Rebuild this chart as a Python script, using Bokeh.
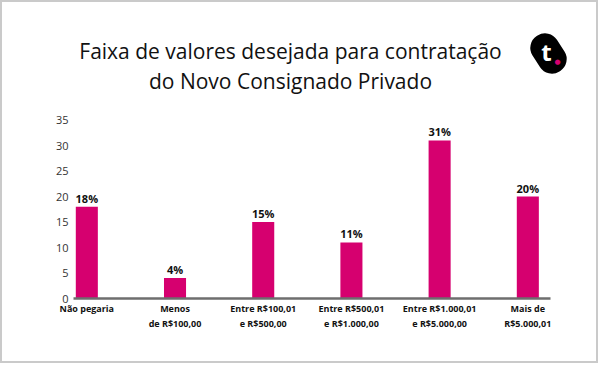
from bokeh.plotting import figure
from bokeh.models import Range1d, FixedTicker, ColumnDataSource, Label
from bokeh.embed import file_html
from bokeh.resources import INLINE

categories = ["Não pegaria", "Menos\nde R$100,00", "Entre R$100,01\ne R$500,00",
              "Entre R$500,01\ne R$1.000,00", "Entre R$1.000,01\ne R$5.000,00",
              "Mais de\nR$5.000,01"]
values = [18, 4, 15, 11, 31, 20]
value_labels = ["18%", "4%", "15%", "11%", "31%", "20%"]
y_ticks = [0, 5, 10, 15, 20, 25, 30, 35]
title_lines = ["Faixa de valores desejada para contratação", "do Novo Consignado Privado"]

BAR = "#d6006f"
xs = list(range(len(categories)))
src = ColumnDataSource(dict(x=xs, top=values, lab=value_labels))

p = figure(width=598, height=363, output_backend="svg", toolbar_location=None,
           x_range=Range1d(-0.151, 5.824), y_range=Range1d(0, 58.04),
           min_border_left=71, min_border_right=0, min_border_top=0, min_border_bottom=67)
p.outline_line_color = None
p.grid.visible = False
p.background_fill_color = "white"
p.border_fill_color = "white"
p.styles = {"border": "2px solid #cacaca"}

p.vbar(x="x", top="top", width=0.25, bottom=0, source=src, color=BAR, line_color=None)
p.text(x="x", y="top", text="lab", source=src, text_align="center", text_baseline="bottom",
       y_offset=-1, text_font_size="11px", text_font_style="bold",
       text_font={"value": "Open Sans"}, text_color="#111")

# x axis
xa = p.xaxis[0]
xa.ticker = FixedTicker(ticks=xs)
xa.bounds = (-0.151, 5.257)
xa.major_label_overrides = {i: c for i, c in zip(xs, categories)}
xa.axis_line_color = "#6e6e6e"
xa.axis_line_width = 2.5
xa.major_tick_line_color = None
xa.minor_tick_line_color = None
xa.major_tick_out = 0
xa.major_label_standoff = 3
xa.major_label_text_font = "Open Sans"
xa.major_label_text_font_style = "bold"
xa.major_label_text_font_size = "9px"
xa.major_label_text_color = "#111"

ya = p.yaxis[0]
ya.ticker = FixedTicker(ticks=y_ticks)
ya.axis_line_color = None
ya.major_tick_line_color = None
ya.minor_tick_line_color = None
ya.major_tick_out = 0
ya.major_label_standoff = 5
ya.major_label_text_font = "Open Sans"
ya.major_label_text_font_size = "11px"
ya.major_label_text_color = "#333"

# title (screen units relative to the plot frame)
for i, t in enumerate(title_lines):
    p.add_layout(Label(x=217, y=247.5 - 30 * i, x_units="screen", y_units="screen", text=t,
                       text_align="center", text_baseline="alphabetic", text_font="Open Sans",
                       text_font_size="21px", text_color="#111"))

# logo
p.add_layout(Label(x=475, y=245, x_units="screen", y_units="screen", text="\u2003\u2003",
                   text_align="center", text_baseline="middle", text_font_size="15px",
                   background_fill_color="black", padding=6, border_radius=14, angle=-1.0))
p.add_layout(Label(x=473, y=247, x_units="screen", y_units="screen", text="t",
                   text_align="center", text_baseline="middle", text_font="Open Sans",
                   text_font_style="bold", text_font_size="24px", text_color="white"))
p.add_layout(Label(x=484, y=237, x_units="screen", y_units="screen", text="\u25cf",
                   text_align="center", text_baseline="middle", text_font="DejaVu Sans",
                   text_font_size="7px", text_color=BAR))

open("out.html", "w").write(file_html(p, INLINE))
